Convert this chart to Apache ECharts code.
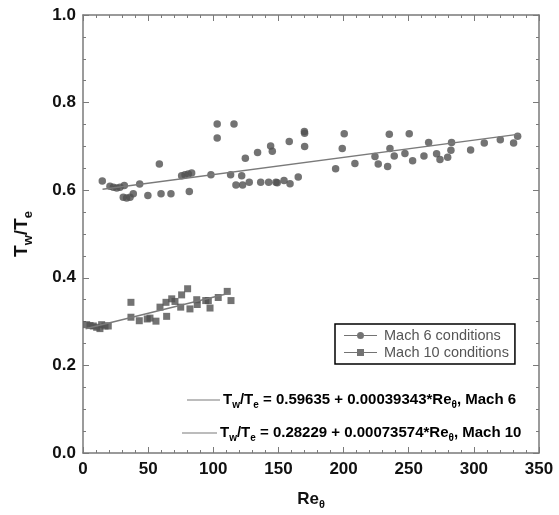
<!DOCTYPE html>
<html>
<head>
<meta charset="utf-8">
<script src="https://cdn.jsdelivr.net/npm/echarts@6/dist/echarts.min.js"></script>
<style>
html,body{margin:0;padding:0;background:#fff;}
#chart{width:559px;height:515px;}
</style>
</head>
<body>
<div id="chart"></div>
<script>
// ---- data ----
var mach6Name = 'Mach 6 conditions';
var mach10Name = 'Mach 10 conditions';
var mach6Re = [14.8,20.7,23.3,25.9,28.4,31.7,30.9,33.5,36.1,38.6,43.5,49.8,58.6,59.9,67.5,75.7,78.3,80.8,83.4,81.6,98.2,103,103,113.3,115.9,117.4,121.8,122.5,124.6,127.6,134,136.4,142.5,144,145.3,148.1,149.1,154.3,158.3,158.9,165.2,169.9,170.1,170.1,193.9,199,200.5,208.7,224.1,226.6,233.8,235.1,235.6,238.9,247.1,250.4,253,261.7,265.3,271.4,274,279.9,282.4,282.9,297.5,308,320.3,330.5,333.6];
var mach6T = [0.621,0.609,0.607,0.605,0.607,0.611,0.584,0.582,0.584,0.592,0.614,0.588,0.660,0.592,0.592,0.633,0.635,0.637,0.639,0.597,0.635,0.719,0.751,0.635,0.751,0.612,0.633,0.612,0.673,0.618,0.686,0.618,0.618,0.701,0.689,0.618,0.617,0.622,0.711,0.615,0.630,0.734,0.730,0.700,0.649,0.695,0.729,0.661,0.677,0.660,0.654,0.728,0.695,0.678,0.684,0.729,0.667,0.678,0.709,0.683,0.670,0.675,0.691,0.709,0.692,0.708,0.715,0.708,0.723];
var mach10Re = [2.8,5.4,7.9,10.5,13,14.3,16.9,19.4,36.8,36.8,43.2,49.3,51.4,56,59.1,63.7,64.2,68.1,70.6,75,75.7,80.3,82.1,87.3,87.7,94.2,96.2,97.5,103.8,110.7,113.6];
var mach10T = [0.293,0.291,0.290,0.287,0.284,0.293,0.290,0.290,0.344,0.310,0.302,0.306,0.308,0.301,0.333,0.344,0.312,0.352,0.346,0.333,0.361,0.375,0.329,0.350,0.339,0.348,0.348,0.331,0.355,0.369,0.348];
// fit line endpoints (from the equations shown on the chart)
var mach6FitRe = [15, 335];
var mach6FitT = [0.6023, 0.7281];
var mach10FitRe = [2, 113];
var mach10FitT = [0.2838, 0.3654];
var eq6 = ['0.59635', '0.00039343', 'Mach 6'];
var eq10 = ['0.28229', '0.00073574', 'Mach 10'];

function pairs(xs, ys){ return xs.map(function(x,i){ return [x, ys[i]]; }); }

var FONT = '"Liberation Sans", Arial, Helvetica, sans-serif';
var AXC = '#7a7a7a';
var MK = '#505050';
var LN = '#7a7a7a';

var xNameRich = {
  n: {fontSize: 17, fontWeight: 'bold', fontFamily: FONT, color: '#111'},
  s: {fontSize: 11, fontWeight: 'bold', fontFamily: FONT, color: '#111', padding: [11,0,0,0]}
};
var yNameRich = {
  n: {fontSize: 19, fontWeight: 'bold', fontFamily: FONT, color: '#111'},
  s: {fontSize: 13, fontWeight: 'bold', fontFamily: FONT, color: '#111', padding: [13,0,0,0]}
};
var eqRich = {
  n: {fontSize: 15, fontWeight: 'bold', fontFamily: FONT, color: '#3a3a3a'},
  s: {fontSize: 10, fontWeight: 'bold', fontFamily: FONT, color: '#3a3a3a', padding: [10,0,0,0]}
};

function eqText(e){
  return '{n|T}{s|w}{n|/T}{s|e}{n| = ' + e[0] + ' + ' + e[1] + '*Re}{s|θ}{n|, ' + e[2] + '}';
}

function axisCommon(){
  return {
    axisLine: {show: true, onZero: false, lineStyle: {color: AXC, width: 1.5}},
    axisTick: {show: true, inside: true, length: 6, lineStyle: {color: AXC, width: 1}},
    minorTick: {show: true, length: 3, lineStyle: {color: AXC, width: 1}},
    splitLine: {show: false},
    minorSplitLine: {show: false}
  };
}

var xBottom = Object.assign(axisCommon(), {
  type: 'value', min: 0, max: 350, interval: 50, position: 'bottom',
  axisLabel: {fontSize: 17, fontWeight: 'bold', fontFamily: FONT, color: '#111', margin: 8},
  name: '{n|Re}{s|θ}', nameLocation: 'middle', nameGap: 35,
  nameTextStyle: {rich: xNameRich}
});
xBottom.minorTick.splitNumber = 5;
var xTop = Object.assign(axisCommon(), {
  type: 'value', min: 0, max: 350, interval: 50, position: 'top',
  axisLabel: {show: false}
});
xTop.minorTick.splitNumber = 5;
var yLeft = Object.assign(axisCommon(), {
  type: 'value', min: 0, max: 1, interval: 0.2, position: 'left',
  axisLabel: {fontSize: 17, fontWeight: 'bold', fontFamily: FONT, color: '#111', margin: 7,
    formatter: function(v){ return v.toFixed(1); }},
  name: '{n|T}{s|w}{n|/T}{s|e}', nameLocation: 'middle', nameGap: 48, nameRotate: 90,
  nameTextStyle: {rich: yNameRich}
});
yLeft.minorTick.splitNumber = 4;
var yRight = Object.assign(axisCommon(), {
  type: 'value', min: 0, max: 1, interval: 0.2, position: 'right',
  axisLabel: {show: false}
});
yRight.minorTick.splitNumber = 4;

var circleIcon = 'path://M0,3 L13,3 L13,4 L0,4 Z M20,3 L33,3 L33,4 L20,4 Z M13,3.5 A3.5,3.5 0 1 1 20,3.5 A3.5,3.5 0 1 1 13,3.5 Z';
var squareIcon = 'path://M0,3 L13,3 L13,4 L0,4 Z M20,3 L33,3 L33,4 L20,4 Z M13,0 L20,0 L20,7 L13,7 Z';

var chart = echarts.init(document.getElementById('chart'), null, {renderer: 'canvas'});
chart.setOption({
  animation: false,
  backgroundColor: '#fff',
  grid: {left: 83, right: 20, top: 15, bottom: 59, containLabel: false},
  xAxis: [xBottom, xTop],
  yAxis: [yLeft, yRight],
  legend: {
    orient: 'vertical', left: 335, top: 324,
    data: [{name: mach6Name, icon: circleIcon}, {name: mach10Name, icon: squareIcon}],
    itemWidth: 33, itemHeight: 7, itemGap: 2,
    padding: [4, 6, 4, 9],
    borderColor: '#000', borderWidth: 1.5,
    textStyle: {fontSize: 14.5, fontFamily: FONT, color: '#555', padding: [0,0,0,2]},
    selectedMode: false
  },
  series: [
    {name: mach6Name, type: 'scatter', data: pairs(mach6Re, mach6T), symbol: 'circle', symbolSize: 7.5,
     itemStyle: {color: MK}},
    {name: mach10Name, type: 'scatter', data: pairs(mach10Re, mach10T), symbol: 'rect', symbolSize: 7,
     itemStyle: {color: MK}},
    {name: 'fit6', type: 'line', data: pairs(mach6FitRe, mach6FitT), symbol: 'none',
     lineStyle: {color: LN, width: 1.4}, silent: true},
    {name: 'fit10', type: 'line', data: pairs(mach10FitRe, mach10FitT), symbol: 'none',
     lineStyle: {color: LN, width: 1.4}, silent: true}
  ],
  graphic: [
    {type: 'line', shape: {x1: 187, y1: 400, x2: 220, y2: 400}, style: {stroke: LN, lineWidth: 1.2}},
    {type: 'text', x: 223, y: 400, style: {text: eqText(eq6), rich: eqRich, verticalAlign: 'middle', align: 'left'}},
    {type: 'line', shape: {x1: 182, y1: 433, x2: 217, y2: 433}, style: {stroke: LN, lineWidth: 1.2}},
    {type: 'text', x: 220, y: 433, style: {text: eqText(eq10), rich: eqRich, verticalAlign: 'middle', align: 'left'}}
  ]
});
</script>
</body>
</html>
